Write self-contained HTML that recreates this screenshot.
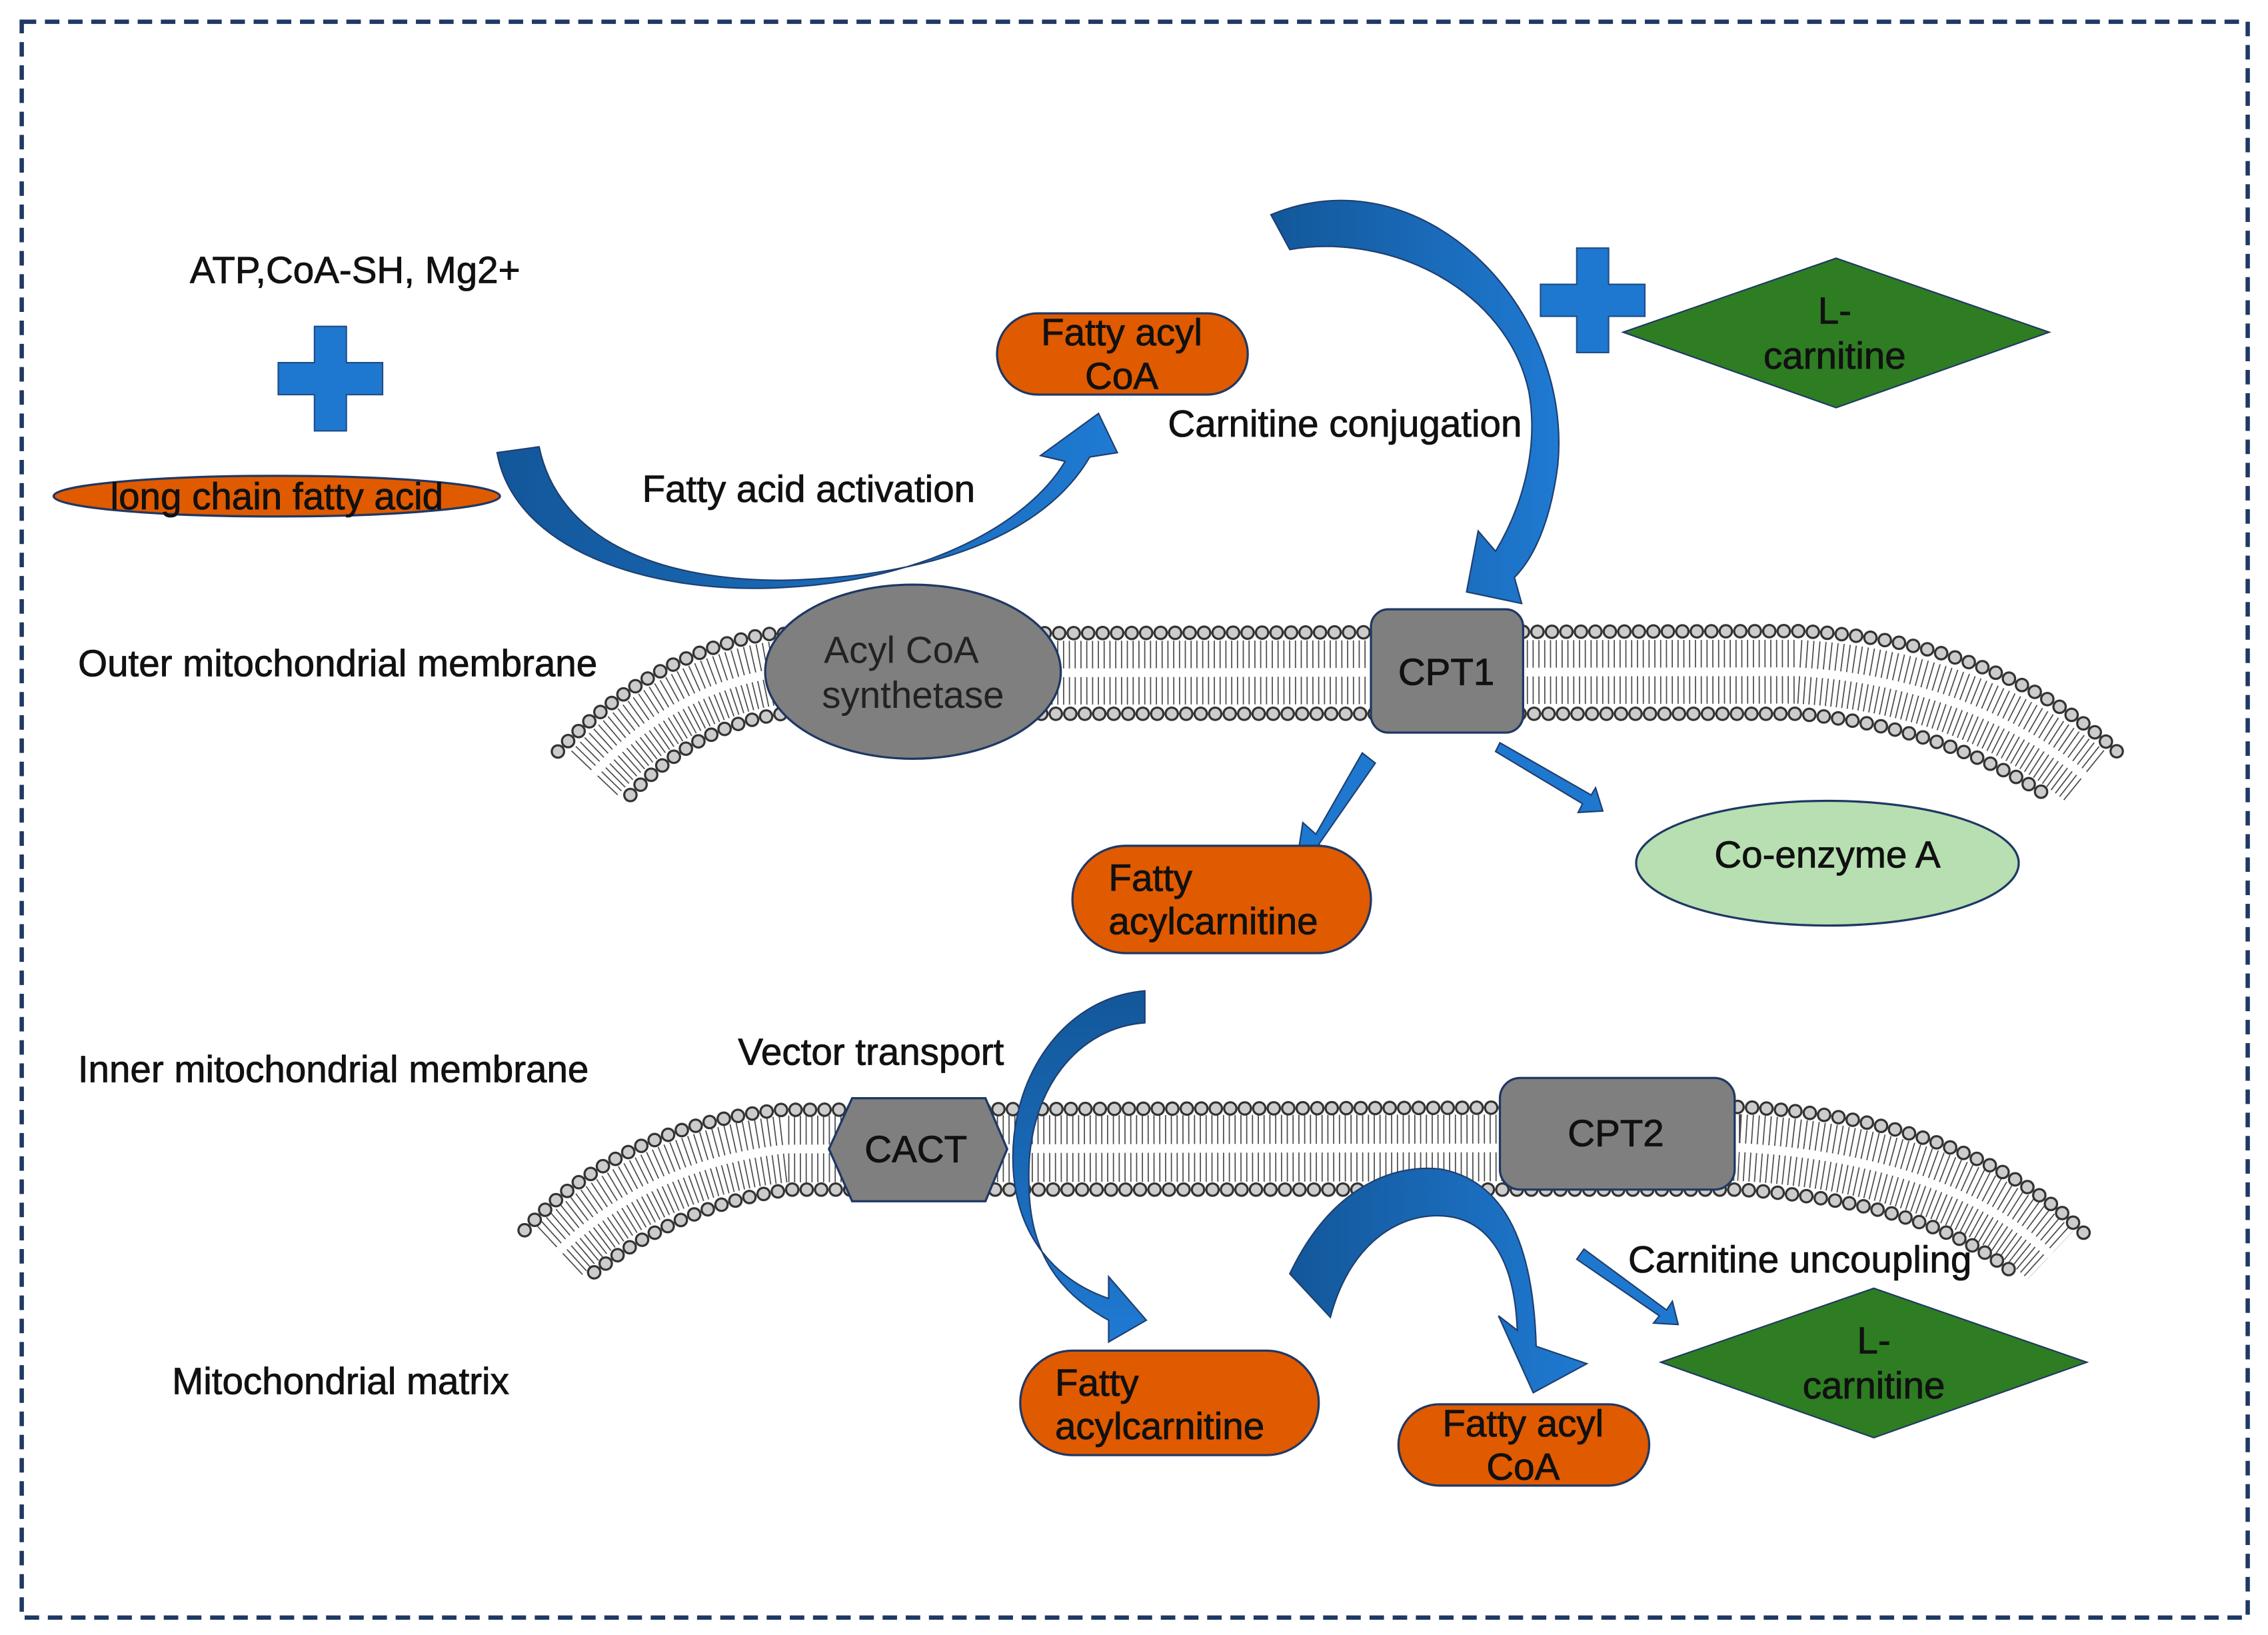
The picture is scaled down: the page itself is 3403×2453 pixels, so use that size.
<!DOCTYPE html>
<html><head><meta charset="utf-8"><style>
html,body{margin:0;padding:0;background:#fff;}
svg{display:block;}
text{font-family:"Liberation Sans",sans-serif;}
</style></head><body>
<svg width="3403" height="2453" viewBox="0 0 1565 1127" preserveAspectRatio="none" xmlns="http://www.w3.org/2000/svg">
<defs>
<linearGradient id="ag" x1="0" y1="0" x2="1" y2="0"><stop offset="0" stop-color="#13579a"/><stop offset="1" stop-color="#1f7ad2"/></linearGradient>
<linearGradient id="ag2" x1="0" y1="0" x2="0" y2="1"><stop offset="0" stop-color="#13579a"/><stop offset="1" stop-color="#1f7ad2"/></linearGradient>
</defs>
<rect x="0" y="0" width="1565" height="1127" fill="#fff"/>
<rect x="15" y="15" width="1536" height="1100" fill="none" stroke="#1f3864" stroke-width="3" stroke-dasharray="10,6"/>

<g fill="none">
<path d="M410,533 Q465,475 535,464 L1240,463 Q1360,470 1440,536" stroke="#000" stroke-width="44" stroke-dasharray="0.8 3.2" opacity="0.7"/>
<path d="M410,533 Q465,475 535,464 L1240,463 Q1360,470 1440,536" stroke="#fff" stroke-width="6"/>
<path d="M385,518 Q450,450 530,437 L1240,435 Q1380,440 1465,522" stroke="#333" stroke-width="10" stroke-linecap="round" stroke-dasharray="0 10"/>
<path d="M385,518 Q450,450 530,437 L1240,435 Q1380,440 1465,522" stroke="#ccc" stroke-width="7" stroke-linecap="round" stroke-dasharray="0 10"/>
<path d="M435,548 Q480,500 540,492 L1240,492 Q1340,500 1415,550" stroke="#333" stroke-width="10" stroke-linecap="round" stroke-dasharray="0 10"/>
<path d="M435,548 Q480,500 540,492 L1240,492 Q1340,500 1415,550" stroke="#ccc" stroke-width="7" stroke-linecap="round" stroke-dasharray="0 10"/>
</g>
<g fill="none">
<path d="M386,862 Q450,802 542,792 L1200,791 Q1345,799 1415,865" stroke="#000" stroke-width="46" stroke-dasharray="0.8 3.2" opacity="0.7"/>
<path d="M386,862 Q450,802 542,792 L1200,791 Q1345,799 1415,865" stroke="#fff" stroke-width="6"/>
<path d="M362,848 Q430,775 540,765 L1200,763 Q1360,770 1440,852" stroke="#333" stroke-width="10" stroke-linecap="round" stroke-dasharray="0 10"/>
<path d="M362,848 Q430,775 540,765 L1200,763 Q1360,770 1440,852" stroke="#ccc" stroke-width="7" stroke-linecap="round" stroke-dasharray="0 10"/>
<path d="M410,877 Q470,830 545,820 L1200,820 Q1330,828 1390,878" stroke="#333" stroke-width="10" stroke-linecap="round" stroke-dasharray="0 10"/>
<path d="M410,877 Q470,830 545,820 L1200,820 Q1330,828 1390,878" stroke="#ccc" stroke-width="7" stroke-linecap="round" stroke-dasharray="0 10"/>
</g>

<path d="M217,225 h22 v25 h25 v22 h-25 v25 h-22 v-25 h-25 v-22 h25 z" fill="#1f78cf" stroke="#1f4e8a" stroke-width="1"/>
<path d="M1088,171 h22 v25 h25 v22 h-25 v25 h-22 v-25 h-25 v-22 h25 z" fill="#1f78cf" stroke="#1f4e8a" stroke-width="1"/>

<path d="M343,312 C355,380 450,410 540,405 C640,400 710,360 735,318 L718,314 L758,285 L771,312 L752,315 C720,370 640,398 540,400 C450,400 385,370 372,308 Z" fill="url(#ag)" stroke="#1f3f70" stroke-width="1"/>
<path d="M877,148 C980,105 1085,210 1075,320 C1070,360 1058,385 1045,398 L1050,416 L1012,408 L1020,366 L1032,380 C1050,350 1062,310 1055,270 C1040,200 960,160 890,172 Z" fill="url(#ag)" stroke="#1f3f70" stroke-width="1"/>
<path d="M940,519 L949,526 L910,582 L921,590 L895,593 L899,567 L908,575 Z" fill="#1f78cf" stroke="#1f3f70" stroke-width="1"/>
<path d="M1032,518 L1035,512 L1098,548 L1101,543 L1106,559 L1089,560 L1092,554 Z" fill="#1f78cf" stroke="#1f3f70" stroke-width="1"/>
<path d="M790,683 C730,688 692,750 700,815 C706,860 735,885 765,895 L765,880 L791,910 L765,925 L765,910 C728,890 710,860 710,815 C708,750 745,708 790,705 Z" fill="url(#ag2)" stroke="#1f3f70" stroke-width="1"/>
<path d="M890,878 C920,815 965,802 995,806 C1040,815 1058,860 1060,928 L1095,940 L1058,960 L1034,907 L1047,917 C1045,865 1025,838 992,838 C960,838 930,862 918,908 Z" fill="url(#ag)" stroke="#1f3f70" stroke-width="1"/>
<path d="M1088,868 L1093,861 L1150,903 L1154,897 L1158,913 L1141,912 L1145,907 Z" fill="#1f78cf" stroke="#1f3f70" stroke-width="1"/>

<ellipse cx="191" cy="342" rx="154" ry="14" fill="#e05a00" stroke="#1f3864" stroke-width="1.5"/>
<rect x="688" y="216" width="173" height="56" rx="28" fill="#e05a00" stroke="#1f3864" stroke-width="1.5"/>
<polygon points="1120,229 1267,178 1414,229 1267,281" fill="#2e7d22" stroke="#1f3864" stroke-width="1"/>
<ellipse cx="630" cy="463" rx="102" ry="60" fill="#7f7f7f" stroke="#1f3864" stroke-width="1.5"/>
<rect x="946" y="420" width="105" height="85" rx="12" fill="#7f7f7f" stroke="#1f3864" stroke-width="1.5"/>
<rect x="740" y="583" width="206" height="74" rx="37" fill="#e05a00" stroke="#1f3864" stroke-width="1.5"/>
<ellipse cx="1261" cy="595" rx="132" ry="43" fill="#b7dfb1" stroke="#1f3864" stroke-width="1.5"/>
<polygon points="572,792 588,757 680,757 695,792 680,828 588,828" fill="#7f7f7f" stroke="#1f3864" stroke-width="1.5"/>
<rect x="1035" y="743" width="162" height="77" rx="14" fill="#7f7f7f" stroke="#1f3864" stroke-width="1.5"/>
<rect x="704" y="931" width="206" height="72" rx="36" fill="#e05a00" stroke="#1f3864" stroke-width="1.5"/>
<rect x="965" y="968" width="173" height="56" rx="28" fill="#e05a00" stroke="#1f3864" stroke-width="1.5"/>
<polygon points="1146,939 1293,888 1440,939 1293,991" fill="#2e7d22" stroke="#1f3864" stroke-width="1"/>

<g font-size="26" fill="#111" stroke="#111" stroke-width="0.4">
<text x="245" y="195" text-anchor="middle">ATP,CoA-SH, Mg2+</text>
<text x="191" y="351" text-anchor="middle">long chain fatty acid</text>
<text x="558" y="346" text-anchor="middle">Fatty acid activation</text>
<text x="774" y="238" text-anchor="middle">Fatty acyl</text>
<text x="774" y="268" text-anchor="middle">CoA</text>
<text x="928" y="301" text-anchor="middle">Carnitine conjugation</text>
<text x="1266" y="223" text-anchor="middle">L-</text>
<text x="1266" y="254" text-anchor="middle">carnitine</text>
<text x="233" y="466" text-anchor="middle">Outer mitochondrial membrane</text>
<text x="998" y="472" text-anchor="middle">CPT1</text>
<text x="765" y="614">Fatty</text>
<text x="765" y="644">acylcarnitine</text>
<text x="1261" y="598" text-anchor="middle">Co-enzyme A</text>
<text x="230" y="746" text-anchor="middle">Inner mitochondrial membrane</text>
<text x="601" y="734" text-anchor="middle">Vector transport</text>
<text x="632" y="801" text-anchor="middle">CACT</text>
<text x="1115" y="790" text-anchor="middle">CPT2</text>
<text x="1242" y="877" text-anchor="middle">Carnitine uncoupling</text>
<text x="235" y="961" text-anchor="middle">Mitochondrial matrix</text>
<text x="728" y="962">Fatty</text>
<text x="728" y="992">acylcarnitine</text>
<text x="1051" y="990" text-anchor="middle">Fatty acyl</text>
<text x="1051" y="1020" text-anchor="middle">CoA</text>
<text x="1293" y="933" text-anchor="middle">L-</text>
<text x="1293" y="964" text-anchor="middle">carnitine</text>
</g>
<g font-size="26" fill="#222">
<text x="622" y="457" text-anchor="middle">Acyl CoA</text>
<text x="630" y="488" text-anchor="middle">synthetase</text>
</g>
</svg>
</body></html>
